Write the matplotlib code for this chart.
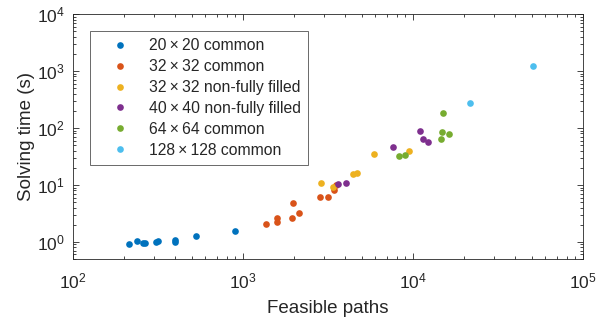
import numpy as np
import matplotlib.pyplot as plt
from matplotlib.ticker import LogLocator, NullFormatter

plt.rcParams['font.family'] = ['Liberation Sans', 'DejaVu Sans']
plt.rcParams['mathtext.fontset'] = 'custom'
plt.rcParams['mathtext.rm'] = 'Liberation Sans'

# feasible paths / solving time (s) per group
paths_20 = [214, 237, 257, 265, 308, 318, 398, 398, 531, 897]
time_20 = [0.91, 1.05, 0.97, 0.96, 1.01, 1.03, 1.07, 1.0, 1.26, 1.58]

paths_32 = [1359, 1578, 1578, 1968, 1932, 2143, 2838, 3176, 3443, 3524]
time_32 = [2.02, 2.61, 2.19, 4.73, 2.65, 3.15, 6.12, 6.12, 8.15, 10.1]

paths_32n = [2865, 3374, 4419, 4665, 5926, 9515]
time_32n = [10.8, 9.06, 15.3, 16.4, 34.5, 39.6]

paths_40n = [3639, 4037, 7603, 10990, 11510, 12220]
time_40n = [10.4, 10.96, 45.9, 86.7, 62.7, 56.2]

paths_64 = [8320, 9020, 15000, 14750, 14560, 16370]
time_64 = [32.8, 33.2, 180, 84.3, 63.5, 78.9]

paths_128 = [21730, 51030]
time_128 = [273, 1213]

labels = ['20\u2009×\u200920 common', '32\u2009×\u200932 common',
          '32\u2009×\u200932 non-fully filled', '40\u2009×\u200940 non-fully filled',
          '64\u2009×\u200964 common', '128\u2009×\u2009128 common']
colors = ['#0072BD', '#D95319', '#EDB120', '#7E2F8E', '#77AC30', '#4DBEEE']

groups = [(paths_20, time_20), (paths_32, time_32), (paths_32n, time_32n),
          (paths_40n, time_40n), (paths_64, time_64), (paths_128, time_128)]

fig = plt.figure(figsize=(6.01, 3.2), dpi=100)
ax = fig.add_axes([0.1215, 0.1906, 0.8486, 0.7656])

for (px, ty), lab, c in zip(groups, labels, colors):
    ax.plot(px, ty, 'o', color=c, markersize=4.8, markeredgewidth=0, label=lab)

ax.set_xscale('log')
ax.set_yscale('log')
ax.set_xlim(1e2, 1e5)
ax.set_ylim(0.5, 1e4)

dark = '#262626'
for s in ax.spines.values():
    s.set_color(dark)
    s.set_linewidth(0.6)
ax.xaxis.set_major_locator(LogLocator(base=10, numticks=10))
ax.yaxis.set_major_locator(LogLocator(base=10, numticks=10))
ax.xaxis.set_minor_locator(LogLocator(base=10, subs=np.arange(2, 10), numticks=20))
ax.yaxis.set_minor_locator(LogLocator(base=10, subs=np.arange(2, 10), numticks=20))
ax.xaxis.set_minor_formatter(NullFormatter())
ax.yaxis.set_minor_formatter(NullFormatter())
ax.tick_params(which='both', direction='in', top=True, right=True,
               colors=dark, width=0.6, labelsize=12.5, labelcolor=dark)
ax.tick_params(which='major', length=4)
ax.tick_params(which='minor', length=2)
ax.tick_params(axis='x', pad=9)
ax.tick_params(axis='y', pad=6)

ax.set_xlabel('Feasible paths', fontsize=13.5, color=dark, labelpad=6)
ax.set_ylabel('Solving time (s)', fontsize=13.5, color=dark, labelpad=1)

leg = ax.legend(loc='upper left', bbox_to_anchor=(0.0333, 0.9306), fontsize=11.3,
                frameon=True, fancybox=False, edgecolor=dark, handletextpad=0.4,
                borderpad=0.45, labelspacing=0.38, handlelength=2.9, borderaxespad=0)
leg.get_frame().set_linewidth(0.6)
for t in leg.get_texts():
    t.set_color(dark)

fig.savefig('out.png', dpi=100)
